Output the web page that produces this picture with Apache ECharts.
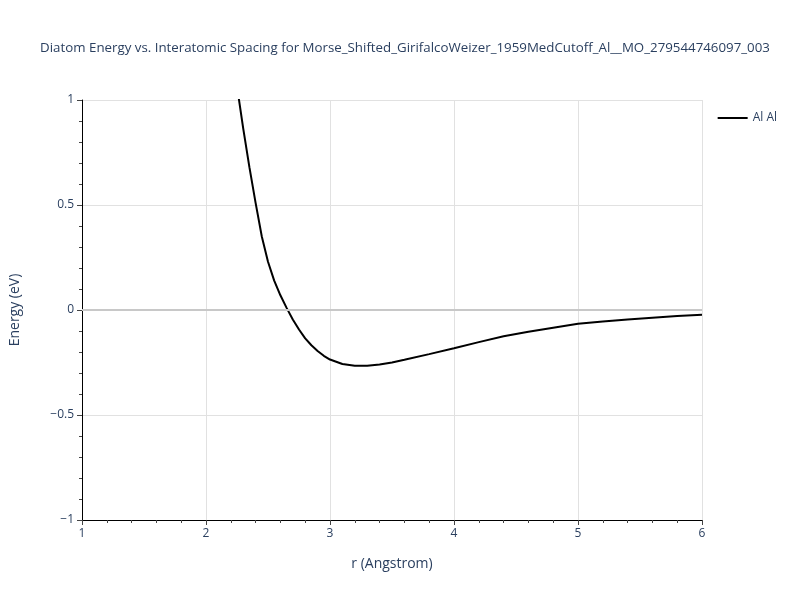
<!DOCTYPE html>
<html>
<head>
<meta charset="utf-8">
<script src="https://cdn.jsdelivr.net/npm/echarts@6/dist/echarts.min.js"></script>
<style>html,body{margin:0;padding:0;background:#fff}#c{width:800px;height:600px}</style>
</head>
<body>
<div id="c"></div>
<script>
const titleText = 'Diatom Energy vs. Interatomic Spacing for Morse_Shifted_GirifalcoWeizer_1959MedCutoff_Al__MO_279544746097_003';
const seriesName = 'Al Al';
const rValues = [2.2, 2.25, 2.3, 2.35, 2.4, 2.45, 2.5, 2.55, 2.6, 2.65, 2.7, 2.75, 2.8, 2.85, 2.9, 2.95, 3.0, 3.1, 3.2, 3.3, 3.4, 3.5, 3.6, 3.8, 4.0, 4.2, 4.4, 4.6, 4.8, 5.0, 5.2, 5.4, 5.6, 5.8, 6.0];
const energyValues = [1.285, 1.065, 0.865, 0.68, 0.51, 0.35, 0.23, 0.14, 0.07, 0.01, -0.045, -0.093, -0.135, -0.168, -0.195, -0.218, -0.236, -0.257, -0.266, -0.266, -0.26, -0.25, -0.237, -0.21, -0.182, -0.153, -0.125, -0.104, -0.085, -0.066, -0.055, -0.045, -0.037, -0.029, -0.023];
const xTicks = [1, 2, 3, 4, 5, 6];
const yTicks = [-1, -0.5, 0, 0.5, 1];

const chart = echarts.init(document.getElementById('c'));
const font = '"Open Sans", verdana, arial, sans-serif';
const txt = '#2a3f5f';
chart.setOption({
  animation: false,
  title: {
    text: titleText, left: 400, top: 37, textAlign: 'center',
    textStyle: {fontFamily: font, fontSize: 13.3, fontWeight: 'normal', color: txt}
  },
  legend: {
    data: [seriesName], right: 18, top: 107, itemWidth: 30, itemHeight: 2,
    icon: 'rect',
    textStyle: {fontFamily: font, fontSize: 12, color: txt}
  },
  grid: {left: 80, right: 98, top: 100, bottom: 80},
  xAxis: {
    type: 'value', min: xTicks[0], max: xTicks[xTicks.length-1], interval: 1,
    name: 'r (Angstrom)', nameLocation: 'middle', nameGap: 37,
    nameTextStyle: {fontFamily: font, fontSize: 14, color: txt},
    axisLine: {show: true, onZero: false, lineStyle: {color: '#000', width: 1}},
    axisTick: {show: true, length: 5, lineStyle: {color: '#444'}},
    minorTick: {show: true, splitNumber: 5, length: 3, lineStyle: {color: '#444'}},
    axisLabel: {fontFamily: font, fontSize: 12, color: txt, margin: 8},
    splitLine: {show: true, lineStyle: {color: '#e1e1e1', width: 1}}
  },
  yAxis: {
    type: 'value', min: yTicks[0], max: yTicks[yTicks.length-1], interval: 0.5,
    name: 'Energy (eV)', nameLocation: 'middle', nameGap: 60,
    nameTextStyle: {fontFamily: font, fontSize: 14, color: txt},
    axisLine: {show: true, onZero: false, lineStyle: {color: '#000', width: 1}},
    axisTick: {show: true, length: 5, lineStyle: {color: '#444'}},
    minorTick: {show: true, splitNumber: 5, length: 3, lineStyle: {color: '#444'}},
    axisLabel: {fontFamily: font, fontSize: 12, color: txt, margin: 8,
      formatter: v => (v < 0 ? '\u2212' + Math.abs(v) : String(v))},
    splitLine: {show: true, lineStyle: {color: '#e1e1e1', width: 1}}
  },
  series: [{
    name: seriesName, type: 'line', showSymbol: false, symbol: 'none', clip: true,
    data: rValues.map((r, i) => [r, energyValues[i]]),
    lineStyle: {color: '#000', width: 2}, itemStyle: {color: '#000'},
    markLine: {
      silent: true, symbol: 'none', label: {show: false},
      lineStyle: {color: '#c8c8c8', width: 2, type: 'solid'},
      data: [{yAxis: 0}]
    },
    z: 3
  }]
});
</script>
</body>
</html>
